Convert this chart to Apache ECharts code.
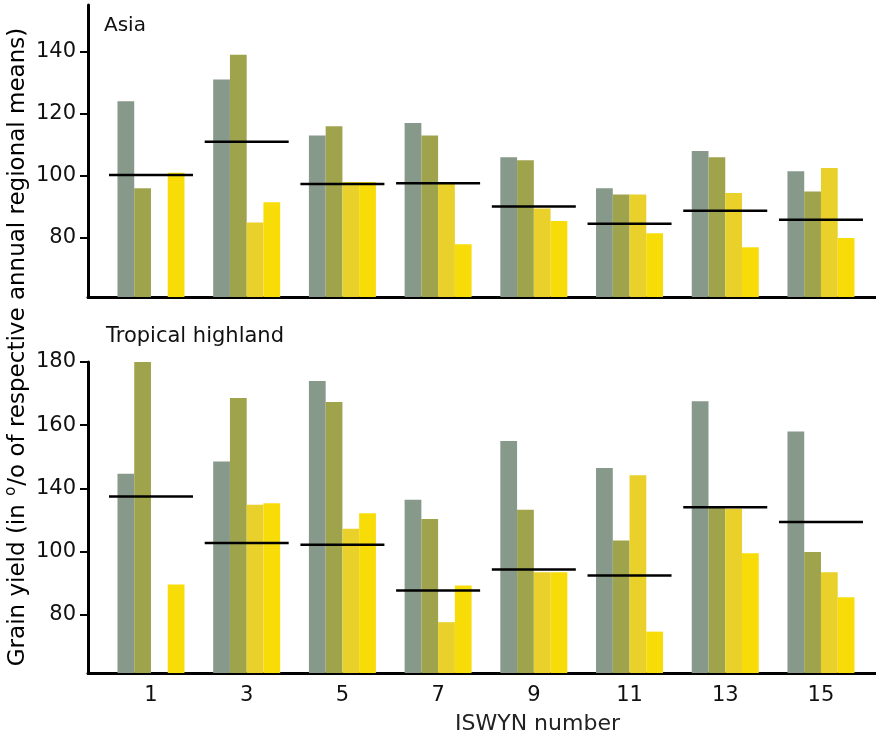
<!DOCTYPE html>
<html>
<head>
<meta charset="utf-8">
<script src="https://cdn.jsdelivr.net/npm/echarts@6/dist/echarts.min.js"></script>
<style>html,body{margin:0;padding:0;background:#fff}#c{width:876px;height:742px}</style>
</head>
<body>
<div id="c"></div>
<script>
// ISWYN numbers (x positions)
const iswyn = [1, 3, 5, 7, 9, 11, 13, 15];
const seriesNames = ['Entry A', 'Entry B', 'Entry C', 'Entry D'];

// Asia panel values (% of regional mean)
const asiaA = [124, 131, 113, 117, 106, 96, 108, 101.5];
const asiaB = [96, 139, 116, 113, 105, 94, 106, 95];
const asiaC = [null, 85, 98, 97.5, 89.5, 94, 94.5, 102.5];
const asiaD = [101, 91.5, 98, 78, 85.5, 81.5, 77, 80];
const asiaMean = [100.3, 111, 97.4, 97.6, 90.1, 84.6, 88.8, 85.9];

// Tropical highland panel values (internal scale; tick labels below)
const thA = [144.6, 148.5, 174, 136.4, 155, 146.4, 167.6, 158];
const thB = [180.8, 168.6, 167.3, 130.3, 133.2, 123.5, 134, 119.8];
const thC = [null, 134.8, 127.2, 97.6, 113.4, 144.1, 133.5, 113.4];
const thD = [109.5, 135.3, 132.1, 109.2, 113.4, 94.6, 119.4, 105.5];
const thMean = [137.4, 122.7, 122.1, 107.6, 114.3, 112.4, 134, 129.3];

// Tick values and printed tick labels
const asiaTicks = [80, 100, 120, 140];
const thTickValues = [100, 120, 140, 160, 180];
const thTickLabels = ['80', '100', '140', '160', '180'];

const colors = ['#86998a', '#9fa34c', '#e9d02a', '#f7dc08'];
const FONT = 'DejaVu Sans';

const pair = (vals) => iswyn.map((x, i) => [x, vals[i]]);

const chart = echarts.init(document.getElementById('c'));

const xBase = (gi, showLabels) => ({
  type: 'value', gridIndex: gi, min: -0.316, max: 16.15,
  axisLine: { show: true, onZero: false, lineStyle: { color: '#000', width: 3 } },
  axisTick: { show: false },
  splitLine: { show: false },
  axisLabel: showLabels ? {
    show: true, customValues: iswyn, fontFamily: FONT, fontSize: 21, color: '#111', margin: 12
  } : { show: false }
});

const yBase = (gi, min, max, ticks, fmt) => ({
  type: 'value', gridIndex: gi, min: min, max: max,
  axisLine: { show: true, onZero: false, lineStyle: { color: '#000', width: 3 } },
  axisTick: { show: true, customValues: ticks, length: 8, lineStyle: { color: '#000', width: 2 } },
  splitLine: { show: false },
  axisLabel: { show: true, customValues: ticks, formatter: fmt, fontFamily: FONT, fontSize: 21, color: '#111', margin: 12 }
});

const barSeries = [];
const panels = [[asiaA, asiaB, asiaC, asiaD], [thA, thB, thC, thD]];
panels.forEach((arrs, gi) => {
  arrs.forEach((vals, si) => {
    barSeries.push({
      type: 'bar', name: seriesNames[si], xAxisIndex: gi, yAxisIndex: gi,
      data: pair(vals), barWidth: 16.75, barGap: '0%',
      itemStyle: { color: colors[si] }, silent: true
    });
  });
});

const meanSeries = [asiaMean, thMean].map((vals, gi) => ({
  type: 'scatter', name: 'mean', xAxisIndex: gi, yAxisIndex: gi,
  data: pair(vals), symbol: 'rect', symbolSize: [84, 2.5],
  itemStyle: { color: '#000', opacity: 1 }, z: 5, silent: true
}));

chart.setOption({
  animation: false,
  backgroundColor: '#fff',
  grid: [
    { left: 88, width: 788, top: 5, height: 292 },
    { left: 88, width: 788, top: 362, height: 311 }
  ],
  xAxis: [xBase(0, false), xBase(1, true)],
  yAxis: [
    yBase(0, 61, 155, asiaTicks, (v) => String(v)),
    yBase(1, 81.5, 180, thTickValues, (v) => thTickLabels[thTickValues.indexOf(v)] || '')
  ],
  title: [
    { text: 'Asia', left: 99, top: 11, textStyle: { fontFamily: FONT, fontSize: 20, fontWeight: 'normal', color: '#111' } },
    { text: 'Tropical highland', left: 101, top: 321, textStyle: { fontFamily: FONT, fontSize: 21, fontWeight: 'normal', color: '#111' } },
    { text: 'ISWYN number', left: 450, top: 708, textStyle: { fontFamily: FONT, fontSize: 22, fontWeight: 'normal', color: '#222' } }
  ],
  graphic: [{
    type: 'text', x: 18, y: 347, rotation: Math.PI / 2,
    style: {
      text: '{a|Grain yield (in }{s|o}{a|/o of respective annual regional means)}',
      align: 'center', verticalAlign: 'middle',
      rich: {
        a: { fontFamily: FONT, fontSize: 23, color: '#222', lineHeight: 28 },
        s: { fontFamily: FONT, fontSize: 15, color: '#222', lineHeight: 28, verticalAlign: 'top', padding: [0, 1, 10, 1] }
      }
    }
  }],
  series: barSeries.concat(meanSeries)
});
</script>
</body>
</html>
